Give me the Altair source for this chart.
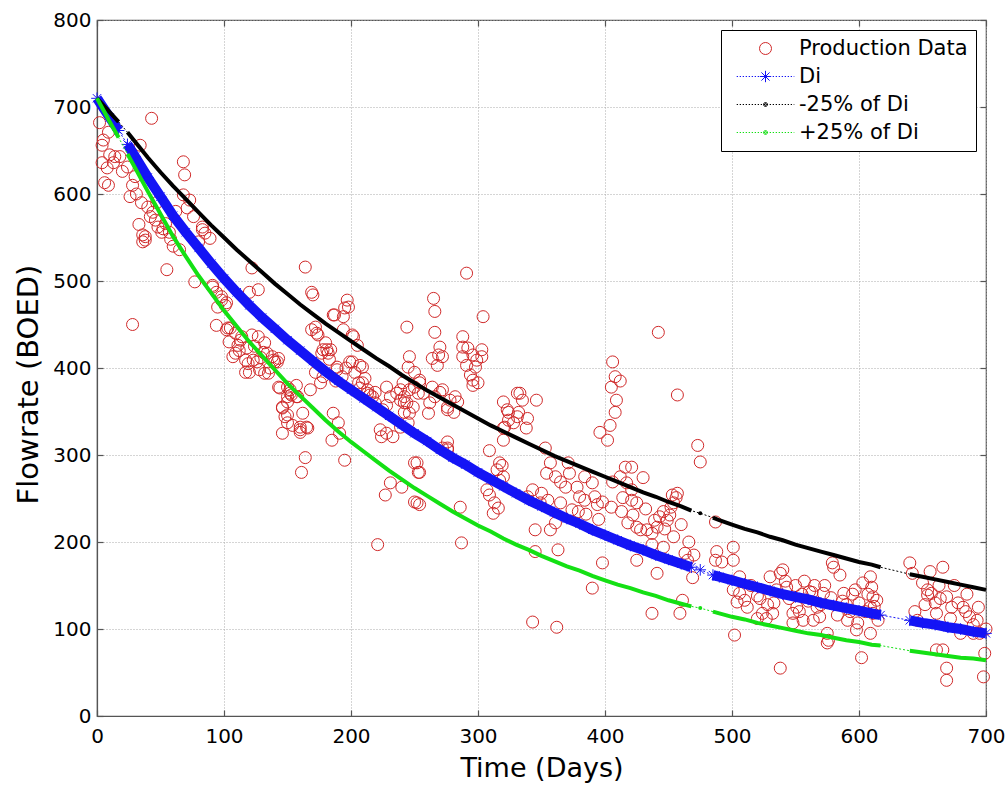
import altair as alt
import pandas as pd

# ---------------- data ----------------
prod_days = [
    2, 9, 4, 10, 14, 4, 8, 6, 9, 34, 43, 24, 28, 26, 35, 42, 44, 48, 54, 57, 36, 38, 13, 18, 28, 55, 65, 51, 38, 36, 5, 20, 30,
    31, 40, 46, 52, 58, 47, 60, 33,
    68, 69, 68, 73, 71, 76, 83, 85, 89, 77, 91, 94, 98, 102, 95, 94, 105, 102, 83, 91, 98, 101, 103, 80, 62,
    109, 114, 122, 127, 132, 111, 118, 109, 107, 117, 126, 138, 140, 143, 135, 117, 120, 127, 122, 144, 150, 146, 148, 150, 146,
    113, 123, 131, 142, 150, 139, 134, 120, 132, 150, 146, 152, 157, 143,
    104, 112, 119, 124, 129, 136, 128,
    164, 157, 153, 160, 165, 164, 161, 169, 169, 152, 158, 150, 162, 166, 160, 168, 176, 186, 190, 170, 172, 173, 180, 181, 177,
    186, 194, 197, 198, 189, 195, 174, 178, 182, 194, 185, 195, 154, 160, 191, 193, 187, 184, 189,
    172, 178, 183, 188, 196,
    201, 205, 201, 203, 209, 207, 213, 202, 199, 207, 211, 206, 215, 219, 228, 231, 239, 244, 246, 245, 241, 239, 244, 246, 249,
    228, 224, 233, 223, 252, 254, 231, 227, 240, 252, 254, 221, 217, 219, 228, 225, 236, 242, 242, 242, 246, 239, 245, 209, 213,
    257, 262, 261, 254, 264, 266, 272, 276, 264, 268, 270, 265, 266, 266, 272, 276, 250, 250, 254, 253, 269, 270, 278, 276, 282,
    281, 284, 288, 288, 292, 296, 288, 299, 291, 298, 294, 296, 296, 291, 276, 276, 272, 286, 287, 250, 253, 250,
    300, 303, 303, 304, 317, 315, 317, 307, 309, 313, 316, 312, 320, 323, 324, 328, 321, 331, 331, 320, 333, 335, 324, 332, 339,
    338, 346, 320, 319, 320, 343, 339, 349, 345, 345, 343, 350, 309,
    353, 357, 354, 361, 365, 371, 372, 369, 378, 384, 390, 380, 384, 392, 394, 398, 374, 379, 365, 355, 361, 357, 363, 362, 390,
    398, 396,
    406, 408, 405, 409, 408, 404, 402, 442, 406, 412, 416, 421, 417, 421, 430, 414, 421, 425, 413, 422, 425, 428, 433, 437, 441,
    439, 443, 446, 449, 425, 441, 437, 446, 437, 412,
    385, 395, 405, 418, 432, 447, 452, 460, 466, 470,
    451, 454, 456, 457, 453, 454, 457, 473, 475, 463, 465, 469, 461, 459, 488, 487, 501, 492, 501, 502, 487,
    506, 501, 506, 510, 504, 524, 520, 527, 532, 538, 540, 543, 538, 551, 548, 556, 561, 567, 564, 572, 569, 575, 576, 575, 579,
    580, 585, 588, 583, 593, 591, 599, 598, 602, 603, 609, 610, 611, 614, 609, 611, 609, 615, 515, 520, 528, 535, 545, 550, 555,
    560, 565, 570, 578, 590, 595, 600, 605, 612, 530, 548, 557,
    512, 522, 533, 542, 553, 563, 573, 587, 597, 607,
    640, 642, 656, 666, 650, 654, 654, 657, 660, 669, 673, 678, 682, 687, 693, 695, 690, 680, 661, 644, 646, 666, 661, 669, 669,
    699, 698, 675, 685, 663, 690, 700,
    652, 664, 672, 684, 694,
]
prod_rate = [
    682, 671, 656, 645, 643, 636, 630, 613, 610, 656, 687, 631, 610, 597, 590, 574, 579, 562, 566, 556, 553, 547, 636, 643, 450, 513, 536, 556, 551, 545, 662, 626, 620,
    600, 585, 570, 560, 548, 590, 540, 565,
    637, 622, 599, 593, 584, 574, 562, 555, 549, 499, 495, 487, 478, 475, 470, 449, 446, 444, 559, 493, 482, 472, 446, 545, 580,
    440, 436, 438, 436, 429, 426, 423, 417, 413, 409, 407, 413, 407, 411, 394, 395, 487, 490, 515, 377, 378, 354, 344, 337, 325,
    432, 409, 418, 407, 367, 409, 417, 395, 394, 346, 355, 375, 367, 378,
    430, 420, 405, 425, 412, 400, 398,
    516, 380, 369, 329, 332, 297, 280, 444, 487, 371, 367, 361, 348, 331, 332, 375, 383, 348, 337, 484, 447, 440, 429, 421, 417,
    461, 459, 478, 470, 398, 469, 438, 421, 417, 444, 317, 294, 334, 326, 325, 390, 461, 421, 401,
    395, 390, 410, 385, 400,
    438, 426, 407, 395, 383, 377, 371, 436, 407, 403, 388, 383, 369, 372, 378, 367, 375, 447, 413, 401, 383, 363, 360, 348, 355,
    325, 321, 321, 329, 291, 280, 268, 254, 263, 245, 243, 197, 367, 360, 357, 352, 371, 367, 360, 349, 375, 332, 337, 401, 375,
    371, 360, 348, 383, 378, 367, 375, 352, 411, 403, 424, 480, 465, 441, 413, 306, 395, 378, 386, 371, 415, 372, 363, 355, 367,
    349, 361, 436, 424, 423, 415, 413, 409, 403, 401, 392, 386, 380, 509, 315, 308, 308, 240, 199, 291, 280, 246,
    383, 421, 413, 459, 291, 283, 271, 260, 254, 245, 239, 233, 361, 352, 340, 337, 332, 344, 371, 317, 371, 363, 349, 349, 342,
    331, 363, 331, 288, 275, 260, 252, 245, 214, 189, 108, 256, 305,
    308, 291, 279, 275, 269, 291, 279, 263, 263, 275, 268, 252, 248, 252, 243, 246, 237, 235, 245, 248, 222, 214, 191, 102, 147,
    176, 326,
    407, 390, 378, 363, 349, 334, 317, 441, 269, 275, 286, 286, 268, 260, 274, 251, 248, 245, 235, 231, 217, 214, 214, 210, 217,
    225, 229, 235, 225, 179, 164, 197, 194, 118, 385,
    232, 226, 240, 222, 238, 215, 240, 220, 200, 185,
    231, 245, 251, 256, 254, 206, 369, 311, 292, 187, 179, 159, 133, 118, 189, 179, 194, 177, 179, 93, 223,
    160, 145, 141, 133, 131, 118, 112, 112, 118, 164, 168, 148, 55, 125, 107, 110, 143, 125, 110, 141, 114, 95, 87, 84, 176,
    171, 162, 141, 116, 120, 110, 107, 99, 67, 153, 160, 148, 137, 133, 125, 118, 95, 110, 150, 138, 128, 145, 135, 150, 140,
    132, 150, 128, 136, 128, 140, 130, 120, 126, 160, 118, 155,
    125, 135, 130, 155, 120, 142, 150, 132, 145, 140,
    176, 164, 166, 171, 153, 145, 139, 141, 130, 137, 125, 130, 125, 114, 110, 95, 95, 95, 118, 120, 110, 76, 76, 55, 41,
    72, 45, 150, 140, 150, 105, 100,
    128, 135, 112, 120, 125,
]

curve_days = [0, 10, 17,
              24, 30, 40, 50, 60, 70, 80, 90, 100, 110, 120, 130, 140, 150, 160, 170, 180, 190, 200,
              210, 220, 230, 240, 250, 260, 270, 280, 290, 300, 310, 320, 330, 340, 350, 360, 370, 380,
              390, 400, 410, 420, 430, 440, 450, 460, 468,
              475,
              485, 490, 500, 510, 520, 530, 540, 550, 560, 570, 580, 590, 600, 610, 617,
              640, 650, 660, 670, 680, 690, 700]
curve_seg = [1, 1, 1] + [2] * 46 + [3] + [4] * 15 + [5] * 7
di_rate = [710, 688, 673,
           657, 643, 619, 597, 575, 556, 538, 520, 503, 487, 472, 458, 445, 432, 420, 408, 396, 385, 375,
           365, 355, 345, 335, 325, 316, 306, 297, 289, 280, 272, 264, 256, 248, 241, 234, 227, 221,
           214, 208, 202, 196, 191, 185, 180, 175, 171,
           168,
           162, 160, 156, 152, 148, 144, 140, 137, 134, 130, 127, 124, 121, 118, 116,
           110, 107, 105, 102, 100, 97, 95]
minus_rate = [710, 694, 683,
              671, 660, 642, 625, 609, 594, 579, 564, 550, 536, 523, 510, 497, 485, 473, 462, 451, 441, 431,
              421, 411, 402, 392, 383, 374, 366, 358, 350, 342, 334, 327, 320, 313, 306, 299, 293, 287,
              281, 275, 269, 263, 257, 252, 246, 241, 236,
              233,
              228, 225, 220, 215, 211, 206, 202, 197, 193, 189, 185, 181, 177, 174, 171,
              163, 160, 157, 154, 151, 148, 145]
plus_rate = [710, 683, 665,
             646, 630, 603, 577, 551, 528, 506, 486, 466, 448, 430, 414, 398, 382, 368, 354, 340, 327, 315,
             304, 293, 282, 272, 262, 253, 244, 235, 227, 219, 212, 204, 197, 191, 184, 178, 172, 167,
             161, 156, 151, 147, 142, 138, 133, 129, 126,
             124,
             120, 118, 114, 111, 107, 104, 101, 98, 95, 93, 90, 87, 85, 82, 81,
             75, 73, 71, 69, 67, 66, 64]

series_names = ["Production Data", "Di", "-25% of Di", "+25% of Di"]
series_colors = ["#D02828", "#1414F5", "#000000", "#14E014"]

# ---------------- styling helpers (legend symbols) ----------------
def dotted_path(half=4.8, dash=0.22, step=0.5):
    parts = []
    x = -half
    while x < half:
        parts.append(f"M{x:.2f},0L{min(x + dash, half):.2f},0")
        x += step
    return "".join(parts)

asterisk = "M-0.95,0L0.95,0M0,-0.95L0,0.95M-0.68,-0.68L0.68,0.68M-0.68,0.68L0.68,-0.68"
dot = "M0.33,0A0.33,0.33,0,1,1,-0.33,0A0.33,0.33,0,1,1,0.33,0ZM0.15,0A0.15,0.15,0,1,1,-0.15,0A0.15,0.15,0,1,1,0.15,0Z"
shape_range = ["circle", dotted_path() + asterisk, dotted_path() + dot, dotted_path() + dot]

# ---------------- data frames ----------------
prod_df = pd.DataFrame({"day": prod_days, "rate": prod_rate, "series": "Production Data"})
curve_frames = []
for name, vals in [("Di", di_rate), ("-25% of Di", minus_rate), ("+25% of Di", plus_rate)]:
    curve_frames.append(pd.DataFrame({"day": curve_days, "rate": vals, "seg": curve_seg, "series": name}))
curve_df = pd.concat(curve_frames, ignore_index=True)

FONT = "DejaVu Sans"
inward = alt.ExprRef("-6")

x_axis = alt.Axis(values=list(range(0, 701, 100)), title="Time (Days)", grid=True,
                  labelFlush=False, labelPadding=16, tickSize=inward,
                  titleY=39, titleBaseline="top")
y_axis = alt.Axis(values=list(range(0, 801, 100)), title="Flowrate (BOED)", grid=True,
                  labelFlush=False, labelPadding=12, tickSize=inward,
                  titleFontSize=29, titleAngle=270, titleX=-54, titleY=364,
                  titleBaseline="bottom", titleAlign="center")

x_enc = alt.X("day:Q", scale=alt.Scale(domain=[0, 700], nice=False, zero=False), axis=x_axis)
y_enc = alt.Y("rate:Q", scale=alt.Scale(domain=[0, 800], nice=False, zero=False), axis=y_axis)

legend = alt.Legend(title=None, orient="top-right", offset=10, padding=8,
                    strokeColor="black", fillColor="white", cornerRadius=0,
                    labelFont=FONT, labelFontSize=21, labelColor="black", labelLimit=400,
                    symbolSize=144, symbolStrokeWidth=1, symbolOffset=26,
                    labelOffset=23, rowPadding=6)

scatter = alt.Chart(prod_df).mark_point(filled=False, size=144, strokeWidth=1, opacity=1).encode(
    x=x_enc, y=y_enc,
    color=alt.Color("series:N", scale=alt.Scale(domain=series_names, range=series_colors), legend=legend),
    shape=alt.Shape("series:N", scale=alt.Scale(domain=series_names, range=shape_range), legend=legend),
)

def curve_layers(name, color, width, marker_shape, marker_size, filled, texture):
    base = alt.Chart(curve_df).transform_filter(alt.datum.series == name)
    thin = base.mark_line(color=color, strokeWidth=1, strokeDash=[2, 2]).encode(x=x_enc, y=y_enc)
    thick = base.mark_line(color=color, strokeWidth=width, strokeCap="butt").encode(
        x=x_enc, y=y_enc, detail="seg:N")
    out = [thin, thick]
    if texture:
        tex = base.transform_filter(alt.datum.seg != 3).mark_point(
            shape=marker_shape, size=marker_size, color=color, filled=filled, strokeWidth=1, opacity=1
        ).encode(x=x_enc, y=y_enc)
        out.append(tex)
    lone = base.transform_filter(alt.datum.seg == 3).mark_point(
        shape=marker_shape, size=marker_size, color=color, filled=filled, strokeWidth=1, opacity=1
    ).encode(x=x_enc, y=y_enc)
    out.append(lone)
    return out

layers = [scatter]
layers += curve_layers("Di", series_colors[1], 10, asterisk, 150, False, True)
layers += curve_layers("-25% of Di", series_colors[2], 4, "circle", 16, True, False)
layers += curve_layers("+25% of Di", series_colors[3], 4, "circle", 16, True, False)

main = alt.layer(*layers)

# mirrored inward ticks on top and right (MATLAB box style)
mirror = alt.Chart(prod_df).mark_point(opacity=0).encode(
    x=alt.X("day:Q", scale=alt.Scale(domain=[0, 700], nice=False, zero=False),
            axis=alt.Axis(orient="top", values=list(range(0, 701, 100)), labels=False, title=None,
                          grid=False, domain=False, tickSize=inward)),
    y=alt.Y("rate:Q", scale=alt.Scale(domain=[0, 800], nice=False, zero=False),
            axis=alt.Axis(orient="right", values=list(range(0, 801, 100)), labels=False, title=None,
                          grid=False, domain=False, tickSize=inward)),
)

chart = alt.layer(main, mirror).resolve_axis(x="independent", y="independent").properties(
    width=889, height=696,
    autosize=alt.AutoSizeParams(type="none"),
    padding={"left": 97, "top": 20, "right": 22, "bottom": 71},
).configure_view(
    stroke="#555555", strokeWidth=1.2
).configure_axis(
    labelFont=FONT, labelFontSize=20, labelColor="black",
    titleFont=FONT, titleFontSize=27, titleFontWeight="normal", titleColor="black",
    domainColor="#555555", domainWidth=1.2, tickColor="#555555", tickWidth=1.2,
    gridColor="#AAAAAA", gridDash=[1, 2], gridWidth=1, gridOpacity=1,
).configure_legend(
    strokeWidth=1
)

chart.save("out.html", embed_options={"renderer": "svg", "actions": False})
